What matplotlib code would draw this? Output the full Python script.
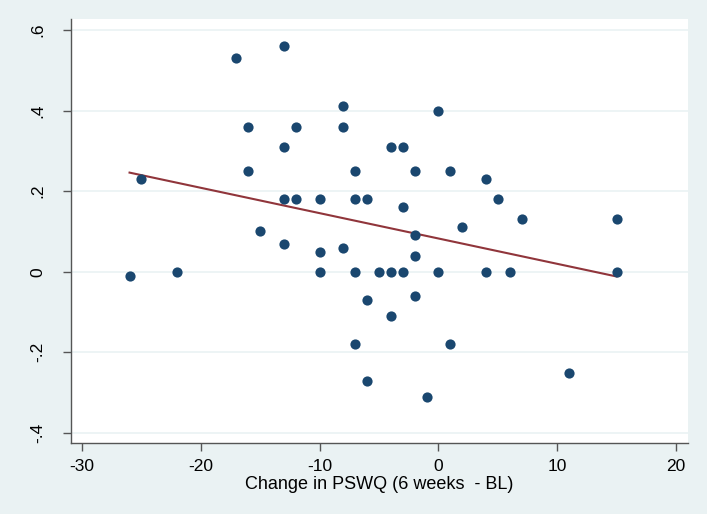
import numpy as np
import matplotlib.pyplot as plt

# change in PSWQ (x) vs outcome change (y)
pswq_change = [-26, -25, -22, -17, -16, -16, -15, -13, -13, -13, -13, -12, -12,
               -10, -10, -10, -8, -8, -8, -7, -7, -7, -7, -6, -6, -6, -5,
               -4, -4, -4, -3, -3, -3, -2, -2, -2, -2, -1, 0, 0, 1, 1, 2,
               4, 4, 5, 6, 7, 11, 15, 15]
outcome = [-0.01, 0.23, 0.00, 0.53, 0.36, 0.25, 0.10, 0.56, 0.31, 0.18, 0.07, 0.36, 0.18,
           0.18, 0.05, 0.00, 0.41, 0.36, 0.06, 0.25, 0.18, 0.00, -0.18, 0.18, -0.07, -0.27, 0.00,
           0.31, 0.00, -0.11, 0.31, 0.16, 0.00, 0.25, 0.09, 0.04, -0.06, -0.31, 0.40, 0.00, 0.25, -0.18, 0.11,
           0.23, 0.00, 0.18, 0.00, 0.13, -0.25, 0.13, 0.00]

x_ticks = [-30, -20, -10, 0, 10, 20]
y_ticks = [-0.4, -0.2, 0, 0.2, 0.4, 0.6]
y_tick_labels = ["-.4", "-.2", "0", ".2", ".4", ".6"]

plt.rcParams['font.family'] = ['Liberation Sans', 'DejaVu Sans']
plt.rcParams['axes.unicode_minus'] = False

bg = "#eaf2f3"
fig = plt.figure(figsize=(7.07, 5.14), dpi=100, facecolor=bg)
ax = fig.add_axes([0.1004, 0.138, 0.8726, 0.825])
ax.set_facecolor("white")

x = np.array(pswq_change, dtype=float)
y = np.array(outcome)
slope, intercept = np.polyfit(x, y, 1)
xs = np.array([x.min(), x.max()])

ax.scatter(x, y, s=54, color="#1a476f", zorder=3, linewidths=0)
ax.plot(xs, intercept + slope * xs, color="#90353b", lw=1.5, zorder=2)

ax.set_xlim(-30.93, 21.0)
ax.set_ylim(-0.425, 0.627)
ax.set_xticks(x_ticks)
ax.set_yticks(y_ticks)
ax.set_yticklabels(y_tick_labels, rotation=90, va="center")
ax.grid(axis="y", color=bg, lw=1.2)
ax.set_axisbelow(True)

for side in ["top", "right"]:
    ax.spines[side].set_visible(False)
for side in ["left", "bottom"]:
    ax.spines[side].set_color("#555555")
    ax.spines[side].set_linewidth(1.0)
ax.tick_params(direction="out", length=5.5, width=1, color="#555555", labelsize=12.5)
ax.tick_params(axis="x", pad=6)
ax.tick_params(axis="y", pad=13)

ax.set_xlabel("Change in PSWQ (6 weeks  - BL)", fontsize=13, labelpad=1.5)

fig.savefig("out.png", dpi=100, facecolor=bg)
